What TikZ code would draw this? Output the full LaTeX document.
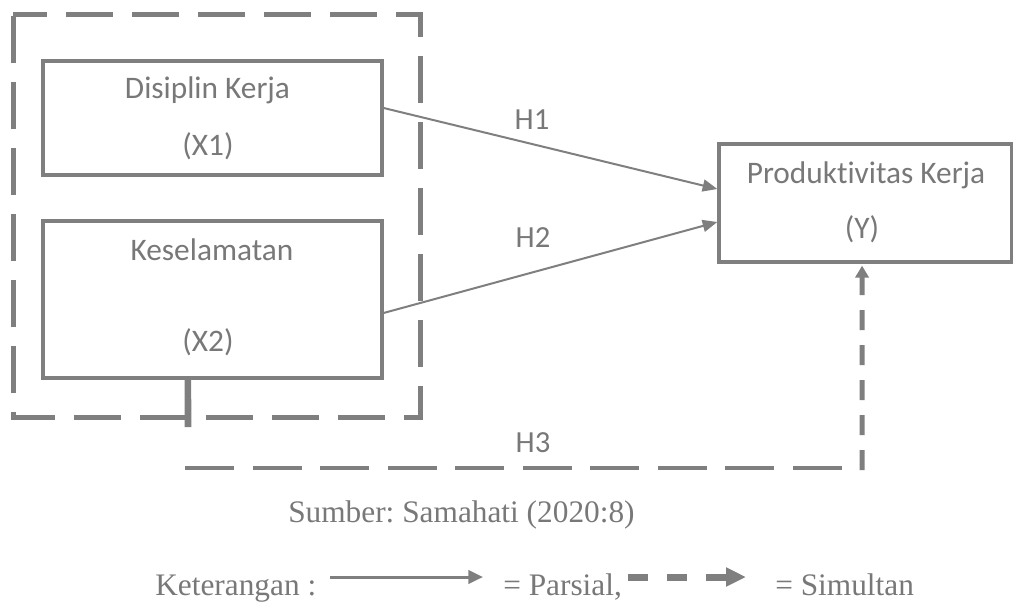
\documentclass[tikz,border=0pt]{standalone}
\usepackage{fontspec}
\setmainfont{Liberation Serif}
\newfontfamily\calib[Ligatures={NoCommon}]{Carlito}
\usetikzlibrary{arrows.meta}
\definecolor{lg}{RGB}{127,127,127}
\definecolor{tg}{RGB}{120,120,120}
\frenchspacing
\begin{document}
\begin{tikzpicture}[x=0.75pt,y=-0.75pt,
  box/.style={draw=lg, line width=2.5pt, inner sep=0pt, fill=none},
  boxtxt/.style={text=tg, font=\calib\fontsize{23.5}{28}\selectfont, anchor=base, inner sep=0pt},
  htxt/.style={text=tg, font=\calib\fontsize{23}{28}\selectfont, anchor=base, inner sep=0pt},
  srctxt/.style={text=tg, font=\fontsize{23.5}{28}\selectfont\frenchspacing, anchor=base west, inner sep=0pt},
  harrow/.style={draw=lg, line width=1.5pt, -{Triangle[length=11pt,width=9pt]}},
  groupline/.style={draw=lg, line width=3.75pt, dash pattern=on 35.25pt off 14.25pt, dash phase=9.75pt},
  simline/.style={draw=lg, line width=3.4pt, dash pattern=on 36.75pt off 13.9pt},
  simup/.style={draw=lg, line width=3.75pt, dash pattern=on 15pt off 11.25pt, -{Triangle[length=9pt,width=10pt]}},
  legsolid/.style={draw=lg, line width=2.25pt, -{Triangle[length=11pt,width=10pt]}},
  legdash/.style={draw=lg, line width=5.25pt, dash pattern=on 15pt off 14.25pt, -{Triangle[length=15pt,width=13.5pt]}}
]
\useasboundingbox (0,0) rectangle (1013,603);

% group of independent variables
\coordinate (g1) at (13,14);
\coordinate (g2) at (420,14);
\coordinate (g3) at (420,417);
\coordinate (g4) at (13,417);
\draw[groupline] (g1) -- (g2) -- (g3) -- (g4) -- cycle;

% boxes
\node[box, minimum width=254.25pt, minimum height=85.5pt] (x1) at (212.5,118) {};
\node[box, minimum width=254.25pt, minimum height=117.75pt] (x2) at (212.5,299.5) {};
\node[box, minimum width=219.4pt, minimum height=88.5pt] (yb) at (865.25,203) {};

% box texts
\node[boxtxt] (t1a) at (207.5,98) {Disiplin Kerja};
\node[boxtxt] (t1b) at (208,155) {(X1)};
\node[boxtxt] (t2a) at (212,260) {Keselamatan};
\node[boxtxt] (t2b) at (208,351) {(X2)};
\node[boxtxt] (tya) at (866,183) {Produktivitas Kerja};
\node[boxtxt] (tyb) at (862,238) {(Y)};

% partial arrows
\draw[harrow] ([yshift=7.5pt]x1.east) -- ([yshift=10.5pt]yb.west);
\draw[harrow] ([yshift=-10.1pt]x2.east) -- ([yshift=-14.25pt]yb.west);
\node[htxt] (h1) at (532,129) {H1};
\node[htxt] (h2) at (533,247) {H2};
\node[htxt] (h3) at (533,452) {H3};

% simultaneous connector
\coordinate (stemend) at (188,427);
\draw[draw=lg, line width=4.9pt] ([xshift=-18.4pt]x2.south) -- (stemend);
\coordinate (h3a) at (185,468);
\coordinate (h3b) at (864,468);
\coordinate (h3c) at (862,470);
\draw[simline] (h3a) -- (h3b);
\draw[simup] (h3c) -- ([xshift=-2.4pt,yshift=-1.5pt]yb.south);

% source and legend
\node[srctxt] (src) at (288,522) {Sumber: Samahati (2020:8)};
\node[srctxt] (ket) at (155,595) {Keterangan :};
\coordinate (ls1) at (330,577);
\coordinate (ls2) at (483,577);
\draw[legsolid] (ls1) -- (ls2);
\node[srctxt] (par) at (503,595) {= Parsial,};
\coordinate (ld1) at (628,577);
\coordinate (ld2) at (746,577);
\draw[legdash] (ld1) -- (ld2);
\node[srctxt] (sim) at (775,595) {= Simultan};
\end{tikzpicture}
\end{document}
